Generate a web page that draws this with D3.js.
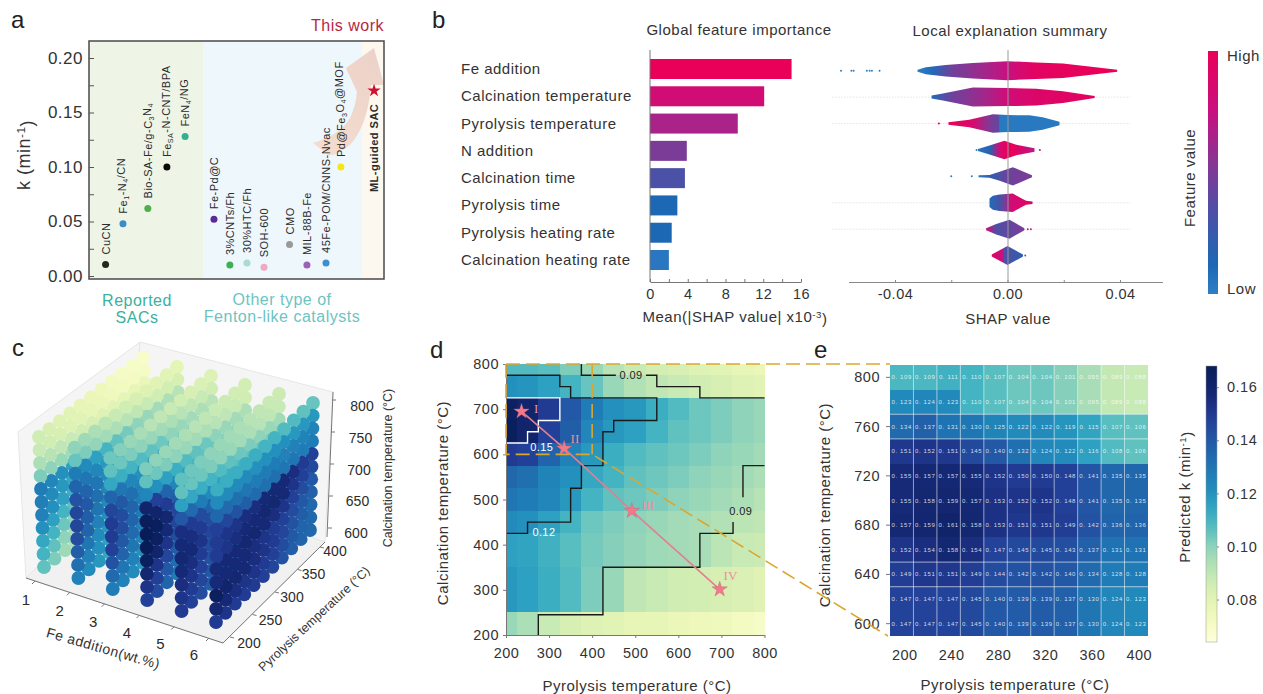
<!DOCTYPE html>
<html>
<head>
<meta charset="utf-8">
<script src="https://cdn.jsdelivr.net/npm/d3@7"></script>
<style>
  body { margin: 0; background: #fff; }
  svg { display: block; }
  text { font-family: "Liberation Sans", Arial, sans-serif; fill: #2b2b2b; }
  .tick text { font-size: 14.5px; letter-spacing: .5px; fill: #333; }
  .lab { font-size: 15px; letter-spacing: .5px; fill: #333; }
  .panel { font-size: 24px; fill: #222; }
</style>
</head>
<body>
<svg id="fig" width="1263" height="694"></svg>
<script>
// panel a
var catalysts = ["CuCN","Fe_{1}-N_{4}/CN","Bio-SA-Fe/g-C_{3}N_{4}","Fe_{SA}-N-CNT/BPA","FeN_{4}/NG","Fe-Pd@C","3%CNTs/Fh","30%HTC/Fh","SOH-600","CMO","MIL-88B-Fe","45Fe-POM/CNNS-Nvac","Pd@Fe_{3}O_{4}@MOF","ML-guided SAC"];
var catalystSlot = [1.0,2.05,3.55,4.7,5.8,7.54,8.5,9.53,10.56,12.1,13.15,14.3,15.2,17.2];
var catalystK = [0.0105,0.048,0.062,0.100,0.128,0.052,0.010,0.012,0.008,0.029,0.010,0.012,0.100,0.170];
var catalystColor = ["#1f2a1f","#3a8cc8","#4db04d","#0a0a0a","#35b08f","#5a2a9a","#3db054","#a8dcd0","#f0a8c4","#999999","#9a62b4","#3d8fd0","#f5e614","#d01030"];
var kTicks = [0,0.05,0.10,0.15,0.20];

// panel b
var shapFeatures = ["Fe addition","Calcination temperature","Pyrolysis temperature","N addition","Calcination time","Pyrolysis time","Pyrolysis heating rate","Calcination heating rate"];
var meanShap = [15.0,12.1,9.3,3.9,3.7,2.9,2.3,2.0];
var barShade = [1,0.82,0.65,0.5,0.33,0.12,0.12,0.04];
var violinShap = [
  [-0.032,-0.029,-0.022,-0.0123,0,0.0102,0.0197,0.029,0.039],
  [-0.027,-0.023,-0.0123,0,0.0102,0.0197,0.031],
  [-0.021,-0.0136,-0.0052,0,0.0078,0.0125,0.0185],
  [-0.0105,-0.0064,-0.0011,0.0031,0.0096],
  [-0.0103,-0.0064,-0.0028,0.0019,0.0087],
  [-0.0064,-0.0052,-0.0028,0.0019,0.0049,0.0066,0.0089],
  [-0.0076,-0.0040,0.0007,0.0060],
  [-0.0056,0,0.0055]
];
var violinDensity = [
  [0.1,0.35,0.58,0.78,0.95,0.82,0.72,0.42,0.1],
  [0.15,0.35,0.95,0.9,0.84,0.58,0.1],
  [0.12,0.38,0.92,0.85,0.82,0.62,0.17],
  [0.1,0.45,0.92,0.52,0.17],
  [0.1,0.14,0.45,0.92,0.1],
  [0.42,0.7,0.82,0.92,0.45,0.2,0.13],
  [0.1,0.52,0.95,0.1],
  [0.1,0.95,0.1]
];
var violinColorAt = [
  [-0.032,-0.027,-0.02,-0.01,0,0.01,0.039],
  [-0.027,-0.02,-0.01,0,0.01,0.031],
  [-0.021,-0.012,-0.007,-0.0031,-0.0028,0.0185],
  [-0.0105,-0.006,-0.003,0,0.003,0.0096],
  [-0.0103,-0.006,0,0.0087],
  [-0.0064,-0.003,-0.001,0.001,0.006,0.0089],
  [-0.0076,-0.004,0,0.006],
  [-0.0056,-0.002,-0.001,0.0055]
];
var violinColorValue = [
  [0,0.1,0.45,0.6,0.75,0.95,1],
  [0.1,0.45,0.6,0.8,0.9,0.95],
  [1,0.85,0.55,0.4,0.03,0.03],
  [0.05,0.2,0.8,1,0.95,0.7],
  [0.03,0.2,0.45,0.5],
  [0.1,0.3,0.45,0.8,0.9,0.9],
  [0.85,0.35,0.4,0.5],
  [0.9,0.8,0.35,0.2]
];
// outliers: row, shap, colour value
var outlierRow = [0,0,0,0,0,0,0,2,3,3,4,4,6,6,7];
var outlierShap = [-0.0592,-0.0555,-0.0547,-0.05,-0.049,-0.0482,-0.0455,-0.0244,-0.011,0.0115,-0.02,-0.0127,0.0072,0.0083,0.0063];
var outlierValue = [0,0,0,0,0,0,0,1,0,1,0.02,0.02,0.9,0.7,0.05];
var dottedRows = [1,2,5,6];

// panel c: one table per Fe addition, rows calcination 800 to 600, columns pyrolysis 200 to 400 (k x 1000)
var feLevels = [1,2,3,4,5,6];
var pyroC = d3.range(200,401,20);
var calcC = d3.range(800,599,-20);
var kByFe = [
 [[86,84,82,80,78,76,75,73,71,70,69],[88,86,84,82,80,78,76,74,73,72,71],[94,92,90,88,86,84,82,80,79,78,77],[102,100,98,96,94,92,90,88,86,85,84],[128,124,120,116,112,108,104,100,98,96,94],[127,122,118,114,110,106,102,100,98,96,94],[126,120,116,112,108,104,102,100,98,96,94],[120,116,110,106,102,100,98,96,94,92,90],[114,110,104,100,98,96,94,92,90,89,88],[110,106,100,96,94,92,90,88,87,86,85],[106,102,97,94,92,90,88,87,86,85,84]],
 [[100,97,94,91,88,86,84,82,81,80,79],[105,102,99,96,94,92,90,88,86,85,84],[128,122,116,110,106,103,100,98,96,94,92],[136,130,124,118,112,108,104,102,100,98,96],[142,136,130,122,116,112,108,104,102,100,98],[146,140,132,124,118,114,110,106,104,102,100],[146,138,130,122,118,114,110,106,104,102,100],[144,136,126,120,116,112,108,104,102,100,98],[138,130,122,118,114,110,106,102,100,98,96],[132,126,120,116,112,108,104,100,98,96,94],[126,122,118,114,110,106,102,98,96,94,92]],
 [[104,101,98,95,92,90,88,86,84,83,82],[106,104,102,100,98,96,94,92,90,88,86],[114,112,110,108,106,104,100,98,96,94,92],[136,130,124,120,116,112,108,104,102,100,98],[146,140,132,126,120,116,112,108,106,104,102],[150,144,136,128,122,118,114,110,108,106,104],[150,144,136,128,122,118,114,110,108,106,104],[148,140,134,126,120,116,112,108,106,104,102],[142,136,130,124,118,114,110,106,104,102,100],[134,130,126,120,116,112,108,104,102,100,98],[128,126,122,118,114,110,106,102,100,98,96]],
 [[102,100,98,96,94,92,90,88,87,86,85],[106,104,102,100,98,96,94,92,90,88,86],[124,120,116,112,108,106,104,100,98,96,94],[160,148,136,124,116,110,106,104,102,100,98],[167,160,150,138,128,118,112,108,106,104,102],[168,166,158,146,136,126,118,112,108,106,104],[168,164,156,146,136,128,120,114,110,108,106],[166,160,152,144,134,126,118,112,108,106,104],[158,152,146,138,130,124,116,110,106,104,102],[152,148,140,132,126,120,114,108,104,102,100],[148,144,136,128,122,118,112,106,102,100,98]],
 [[106,104,102,100,98,96,94,92,90,88,87],[106,105,104,102,100,98,96,94,92,90,88],[116,114,112,110,108,106,104,102,100,98,96],[140,134,128,122,116,112,108,106,104,102,100],[154,150,144,136,128,122,116,112,108,106,104],[156,154,150,144,136,128,122,116,112,108,106],[158,156,152,146,138,130,124,118,112,110,108],[156,154,150,144,138,130,124,118,114,110,108],[154,152,148,142,136,130,124,118,114,110,108],[152,150,146,140,134,128,122,116,112,108,106],[150,148,144,138,132,126,120,114,110,106,104]],
 [[112,112,112,112,112,110,110,108,108,106,105],[122,122,122,122,120,120,120,120,118,118,118],[135,134,132,130,128,128,128,126,126,125,125],[148,146,142,138,134,132,132,130,130,128,128],[150,152,152,154,154,156,156,156,154,150,148],[150,152,154,156,156,158,158,156,152,148,145],[155,156,156,158,158,156,154,152,148,144,140],[155,156,156,156,154,152,150,148,144,140,137],[165,160,158,156,154,152,150,146,142,138,135],[158,156,154,152,152,150,148,144,140,136,135],[150,152,150,150,150,148,146,142,138,136,135]]
];
var pyroTicksC = [200,250,300,350,400];
var calcTicksC = [600,650,700,750,800];

// panel d
var pyroD = d3.range(200,801,50);
var calcEdgesD = [800,775,725,675,625,575,525,475,425,350,250,200];
var heatD = [
 [108,108,107,102,98,92,88,85,84,82,80,78,76],
 [120,119,116,110,105,98,93,90,88,86,84,82,80],
 [164,160,150,140,128,120,118,112,108,104,102,100,98],
 [166,160,148,138,124,118,116,110,106,104,102,100,98],
 [150,148,136,126,118,112,108,106,104,102,100,98,96],
 [135,132,125,120,114,110,106,104,102,100,98,96,94],
 [130,128,124,118,110,106,104,102,100,98,96,94,92],
 [122,120,116,110,104,102,100,98,96,95,93,91,90],
 [116,115,111,107,103,101,99,97,96,95,91,88,87],
 [118,116,112,108,102,98,90,88,86,85,84,83,81],
 [98,94,88,84,82,80,78,78,76,75,74,72,70]
];
var contour012 = [[200,775],[325,775],[325,750],[350,750],[350,725],[550,725],[550,675],[450,675],[450,650],[425,650],[425,575],[375,575],[375,525],[350,525],[350,450],[250,450],[250,425],[200,425]];
var contour015 = [[200,725],[325,725],[325,675],[275,675],[275,650],[250,650],[250,625],[200,625]];
var contour009 = [
  [[375,800],[375,775],[455,775]],
  [[525,775],[550,775],[550,750],[650,750],[650,725],[800,725]],
  [[800,575],[750,575],[750,505]],
  [[727,450],[727,425],[650,425],[650,350],[425,350],[425,245],[275,245],[275,200]]
];
var contourLabels = ["0.09","0.15","0.12","0.09"];
var contourLabelPyro = [490,283,288,745];
var contourLabelCalc = [775,617,429,475];
var contourLabelColor = ["#222","#fff","#fff","#222"];
var pathNames = ["I","II","III","IV"];
var pathPyro = [236,335,492,696];
var pathCalc = [695,613,475,301];
var pathNamePyro = [270,360,530,721];
var pathNameCalc = [702,636,489,333];
var ticksD = [200,300,400,500,600,700,800];

// panel e
var pyroE = d3.range(200,401,20);
var calcE = d3.range(800,599,-20);
var heatE = [
 [.109,.109,.111,.110,.107,.104,.104,.101,.095,.089,.088],
 [.123,.124,.123,.110,.107,.104,.104,.101,.095,.089,.088],
 [.134,.137,.131,.130,.125,.122,.122,.119,.115,.107,.106],
 [.151,.152,.151,.145,.140,.132,.124,.122,.116,.108,.106],
 [.155,.157,.157,.155,.152,.150,.150,.148,.141,.135,.135],
 [.155,.158,.159,.157,.153,.152,.152,.148,.141,.135,.135],
 [.157,.159,.161,.158,.153,.151,.151,.149,.142,.136,.136],
 [.152,.154,.158,.154,.147,.145,.145,.143,.137,.131,.131],
 [.149,.151,.151,.149,.144,.142,.142,.140,.134,.128,.128],
 [.147,.147,.147,.145,.140,.139,.139,.137,.130,.124,.123],
 [.147,.147,.147,.145,.140,.139,.139,.137,.130,.124,.123]
];
var ticksEx = [200,240,280,320,360,400];
var ticksEy = [800,760,720,680,640,600];
var ruledRows = [2,3,8,9];
var colorbarTicks = [0.08,0.10,0.12,0.14,0.16];

var svg = d3.select("#fig");
var defs = svg.append("defs");

// text with _{sub} and ^{sup} parts
function rich(sel, str) {
  var back = 0;
  str.split(/([_^]\{[^}]*\})/).forEach(function(part) {
    if (!part) return;
    var m = part.match(/^([_^])\{(.*)\}$/);
    if (m) {
      var dy = m[1] == "_" ? 0.3 : -0.45;
      sel.append("tspan").attr("dy", (dy + back) + "em").style("font-size", "65%").text(m[2]);
      back = -dy;
    } else {
      sel.append("tspan").attr("dy", back + "em").text(part);
      back = 0;
    }
  });
  return sel;
}

function label(x, y, str, cls, rot) {
  var t = svg.append("text").attr("class", cls || "lab").attr("text-anchor", "middle")
    .attr("transform", "translate(" + x + "," + y + ")" + (rot ? " rotate(" + rot + ")" : ""));
  return rich(t, str);
}

[["a",11,28],["b",432,28],["c",12,356],["d",430,358],["e",814,358]].forEach(function(p) {
  svg.append("text").attr("class", "panel").attr("x", p[1]).attr("y", p[2]).text(p[0]);
});

function styleAxis(g, color) {
  g.selectAll("path,line").attr("stroke", color);
  g.selectAll("text").filter(function() { return !this.textContent; }).remove();
  return g;
}

// ---- a ----
var a = svg.append("g");
var xA = d3.scaleLinear().domain([0,17.8]).range([89,384]);
var yA = d3.scaleLinear().domain([0,0.20]).range([276,58]);
[[0,6.88,"#eef4e6"],[6.88,16.47,"#eef7fc"],[16.47,17.8,"#fdf8ef"]].forEach(function(r) {
  a.append("rect").attr("x", xA(r[0])).attr("y", 41).attr("width", xA(r[1]) - xA(r[0])).attr("height", 238).attr("fill", r[2]);
});
var arrowGrad = defs.append("linearGradient").attr("id", "arrowGrad")
  .attr("gradientUnits", "userSpaceOnUse").attr("x1", 313).attr("y1", 150).attr("x2", 375).attr("y2", 50);
arrowGrad.append("stop").attr("offset", 0).attr("stop-color", "#f4dccf");
arrowGrad.append("stop").attr("offset", 1).attr("stop-color", "#ecd2c8");
a.append("path").attr("fill", "url(#arrowGrad)")
  .attr("d", "M313,143 Q340,135 350,118 Q356,105 357,92 L346,68 L374,48 L384,85 L371,85 Q368,125 350,145 Q335,157 328,155 Z");
a.append("rect").attr("x", 89).attr("y", 41).attr("width", 295).attr("height", 238)
  .attr("fill", "none").attr("stroke", "#4a4a4a").attr("stroke-width", 1.5);
var axA = a.append("g").attr("transform", "translate(89,0)")
  .call(d3.axisLeft(yA).tickValues(d3.range(0,0.201,0.025)).tickSize(-5).tickFormat(function(d) {
    return kTicks.some(function(t) { return Math.abs(t - d) < 1e-6; }) ? d.toFixed(2) : "";
  }));
axA.select(".domain").remove();
styleAxis(axA, "#555");
axA.selectAll("text").attr("x", -6).style("font-size", "17px");
catalysts.forEach(function(c, i) {
  var x = xA(catalystSlot[i]), y = yA(catalystK[i]);
  var last = i == catalysts.length - 1;
  if (last) {
    a.append("path").attr("d", d3.symbol(d3.symbolStar, 55)()).attr("fill", catalystColor[i])
      .attr("transform", "translate(" + x + "," + y + ")");
  } else {
    a.append("circle").attr("cx", x).attr("cy", y).attr("r", 3.5).attr("fill", catalystColor[i]);
  }
  var t = a.append("text").attr("text-anchor", last ? "end" : "start").style("font-size", "11px")
    .style("letter-spacing", ".5px").style("font-weight", last ? "bold" : "normal")
    .attr("transform", "translate(" + (x + 4) + "," + (last ? y + 13 : y - 10) + ") rotate(-90)");
  rich(t, c);
});
label(30, 155, "k (min^{-1})", "lab", -90).style("font-size", "18px");
svg.append("text").attr("x", 384).attr("y", 31).attr("text-anchor", "end").style("font-size", "16px")
  .style("letter-spacing", ".5px").style("fill", "#b8283f").text("This work");
label(137, 306, "Reported").style("fill", "#3bb0a0").style("font-size", "16px");
label(137, 323, "SACs").style("fill", "#3bb0a0").style("font-size", "16px");
label(282, 305, "Other type of").style("fill", "#6cc4c4").style("font-size", "16px");
label(282, 322, "Fenton-like catalysts").style("fill", "#6cc4c4").style("font-size", "16px");

// ---- b ----
var shapColor = d3.scaleLinear().domain([0,0.12,0.35,0.55,0.75,1])
  .range(["#2d7fc5","#1d68b5","#4f4fa5","#8a3592","#c81080","#ea0058"]);
var xBar = d3.scaleLinear().domain([0,16]).range([650,801]);
var yBar = d3.scaleBand().domain(shapFeatures).range([59,270]).paddingInner(0.267);
shapFeatures.forEach(function(f, i) {
  svg.append("rect").attr("x", xBar(0)).attr("y", yBar(f)).attr("width", xBar(meanShap[i]) - xBar(0))
    .attr("height", yBar.bandwidth()).attr("fill", shapColor(barShade[i]));
  svg.append("text").attr("class", "lab").attr("x", 461).attr("y", yBar(f) + yBar.bandwidth() / 2 + 5).text(f);
});
svg.append("line").attr("x1", 650).attr("x2", 650).attr("y1", 50).attr("y2", 282).attr("stroke", "#777");
var axBar = svg.append("g").attr("transform", "translate(0,282)")
  .call(d3.axisBottom(xBar).tickValues(d3.range(0,17,2)).tickSize(-3).tickSizeOuter(0).tickFormat(function(d) { return d % 4 ? "" : d; }));
styleAxis(axBar, "#777").selectAll("text").attr("y", 7);
label(739, 35, "Global feature importance");
label(735, 322, "Mean(|SHAP value| x10^{-3})");

var xShap = d3.scaleLinear().domain([-0.04,0.04]).range([895,1120]);
var yShap = d3.scaleBand().domain(shapFeatures).range([64.1,262.2]).paddingInner(0.5);
var halfHeight = d3.scaleLinear().domain([0,1]).range([0,10]);
dottedRows.forEach(function(r) {
  var y = yShap(shapFeatures[r]) + yShap.bandwidth() / 2;
  svg.append("line").attr("x1", 832).attr("x2", 1130).attr("y1", y).attr("y2", y)
    .attr("stroke", "#e4e4ea").attr("stroke-width", 1).attr("stroke-dasharray", "1.5 1.5");
});
shapFeatures.forEach(function(f, i) {
  var cy = yShap(f) + yShap.bandwidth() / 2;
  var grad = defs.append("linearGradient").attr("id", "v" + i).attr("gradientUnits", "userSpaceOnUse")
    .attr("x1", xShap(violinShap[i][0])).attr("x2", xShap(violinShap[i][violinShap[i].length - 1]));
  var span = violinShap[i][violinShap[i].length - 1] - violinShap[i][0];
  violinColorAt[i].forEach(function(s, j) {
    grad.append("stop").attr("offset", (s - violinShap[i][0]) / span).attr("stop-color", shapColor(violinColorValue[i][j]));
  });
  var area = d3.area().x(function(d) { return xShap(d[0]); })
    .y0(function(d) { return cy - halfHeight(d[1]); })
    .y1(function(d) { return cy + halfHeight(d[1]); });
  svg.append("path").attr("d", area(d3.zip(violinShap[i], violinDensity[i]))).attr("fill", "url(#v" + i + ")");
});
outlierShap.forEach(function(s, i) {
  svg.append("circle").attr("cx", xShap(s)).attr("cy", yShap(shapFeatures[outlierRow[i]]) + yShap.bandwidth() / 2)
    .attr("r", 1).attr("fill", shapColor(outlierValue[i]));
});
svg.append("line").attr("x1", 1008).attr("x2", 1008).attr("y1", 50).attr("y2", 282).attr("stroke", "#999");
var axShap = svg.append("g").attr("transform", "translate(0,282)")
  .call(d3.axisBottom(xShap).tickValues([-0.04,-0.02,0,0.02,0.04]).tickSize(-2).tickSizeOuter(0).tickFormat(function(d) {
    return Math.abs(d) == 0.02 ? "" : d3.format(".2f")(d).replace("\u2212", "-");
  }));
axShap.select(".domain").attr("d", "M849,0.5H1163");
styleAxis(axShap, "#888").selectAll("text").attr("y", 7);
label(1010, 36, "Local explanation summary");
label(1008, 324, "SHAP value");

var bGrad = defs.append("linearGradient").attr("id", "shapBar").attr("x1", 0).attr("x2", 0).attr("y1", 1).attr("y2", 0);
shapColor.domain().forEach(function(v) { bGrad.append("stop").attr("offset", v).attr("stop-color", shapColor(v)); });
svg.append("rect").attr("x", 1208).attr("y", 51).attr("width", 10).attr("height", 243).attr("fill", "url(#shapBar)");
svg.append("text").attr("class", "lab").attr("x", 1227).attr("y", 61).text("High");
svg.append("text").attr("class", "lab").attr("x", 1227).attr("y", 294).text("Low");
label(1195, 178, "Feature value", "lab", -90);

// ---- shared k colours ----
// the reference's ramp runs faster through teal than plain YlGnBu
var kRamp = d3.scaleLinear().domain([0.064,0.10,0.11,0.12,0.13,0.14,0.15,0.155,0.168])
  .range([0,0.35,0.5,0.62,0.69,0.77,0.86,0.93,1]);
function kColor(v) { return d3.interpolateYlGnBu(kRamp(v)); }

// ---- c ----
var wall = "#f5f5f5", wallEdge = "#e6e6e6";
[[[18,432],[140,342],[128,477],[26,578]],
 [[140,342],[333,392],[325,542],[128,477]],
 [[26,578],[223,643],[325,542],[128,477]]].forEach(function(poly, i) {
  svg.append("polygon").attr("points", poly.join(" ")).attr("fill", i == 2 ? "#f1f1f1" : wall).attr("stroke", wallEdge);
});
var uFe = d3.scaleLinear().domain([1,6]).range([0,1]);
var uPy = d3.scaleLinear().domain([200,400]).range([0,1]);
var uCa = d3.scaleLinear().domain([600,800]).range([0,1]);
// screen position of the cube corners, index = fe, pyrolysis, calcination
var cube = {
  "000":[44,567], "100":[216,622], "110":[310,530], "010":[149,483],
  "001":[39,437], "101":[217,490], "111":[313,403], "011":[143,358]
};
function project(fe, py, ca) {
  var f = uFe(fe), p = uPy(py), c = uCa(ca), out = [0,0];
  [0,1].forEach(function(i) { [0,1].forEach(function(j) { [0,1].forEach(function(k) {
    var w = (i ? f : 1 - f) * (j ? p : 1 - p) * (k ? c : 1 - c), q = cube["" + i + j + k];
    out[0] += w * q[0]; out[1] += w * q[1];
  }); }); });
  return out;
}
// back to front: low Fe first, high pyrolysis first, high calcination first
feLevels.forEach(function(fe, fi) {
  d3.range(pyroC.length - 1, -1, -1).forEach(function(pi) {
    calcC.forEach(function(ca, ci) {
      var q = project(fe, pyroC[pi], ca);
      svg.append("circle").attr("cx", q[0]).attr("cy", q[1]).attr("r", 6.9)
        .attr("fill", kColor(kByFe[fi][ci][pi] / 1000));
    });
  });
});
svg.append("path").attr("d", "M26,578L223,643L325,542M327,537L333,392").attr("fill", "none").attr("stroke", "#777");
var feLabX = d3.scaleLinear().domain([1,6]).range([26,194]), feLabY = d3.scaleLinear().domain([1,6]).range([605,660]);
var feTickX = d3.scaleLinear().domain([1,6]).range([35,209]), feTickY = d3.scaleLinear().domain([1,6]).range([581,638]);
feLevels.forEach(function(v) {
  svg.append("text").attr("x", feLabX(v)).attr("y", feLabY(v)).attr("text-anchor", "middle").style("font-size", "15px").text(v);
  svg.append("line").attr("x1", feTickX(v)).attr("y1", feTickY(v)).attr("x2", feTickX(v) - 3).attr("y2", feTickY(v) + 3).attr("stroke", "#777");
});
var pyLabX = d3.scaleLinear().domain([200,400]).range([249,335]), pyLabY = d3.scaleLinear().domain([200,400]).range([648,556]);
var pyTickX = d3.scaleLinear().domain([200,400]).range([230,320]), pyTickY = d3.scaleLinear().domain([200,400]).range([637,547]);
pyroTicksC.forEach(function(v) {
  svg.append("text").attr("x", pyLabX(v)).attr("y", pyLabY(v)).attr("text-anchor", "middle").style("font-size", "14px").text(v);
  svg.append("line").attr("x1", pyTickX(v)).attr("y1", pyTickY(v)).attr("x2", pyTickX(v) + 4).attr("y2", pyTickY(v) + 1).attr("stroke", "#777");
});
var caLabX = d3.scaleLinear().domain([600,800]).range([356,362]), caLabY = d3.scaleLinear().domain([600,800]).range([538,411]);
var caTickY = d3.scaleLinear().domain([600,800]).range([528,400]), caTickX = d3.scaleLinear().domain([600,800]).range([328,332]);
calcTicksC.forEach(function(v) {
  svg.append("text").attr("x", caLabX(v)).attr("y", caLabY(v)).attr("text-anchor", "middle").style("font-size", "14px").text(v);
  svg.append("line").attr("x1", caTickX(v)).attr("y1", caTickY(v)).attr("x2", caTickX(v) + 4).attr("y2", caTickY(v)).attr("stroke", "#777");
});
label(102, 653, "Fe addition(wt.%)", "lab", 16).style("font-size", "14px");
label(317, 622, "Pyrolysis temperature (°C)", "lab", -43).style("font-size", "12.5px").style("letter-spacing", "0");
label(392, 468, "Calcination temperature (°C)", "lab", -90).style("font-size", "12.5px").style("letter-spacing", "0");

// ---- d ----
var xD = d3.scaleLinear().domain([200,800]).range([506,764.5]);
var yD = d3.scaleLinear().domain([200,800]).range([635,364]);
heatD.forEach(function(row, i) {
  pyroD.forEach(function(p, j) {
    var x0 = xD(Math.max(200, p - 25)), x1 = xD(Math.min(800, p + 25));
    var y0 = yD(calcEdgesD[i]), y1 = yD(calcEdgesD[i + 1]);
    svg.append("rect").attr("x", x0).attr("y", y0).attr("width", x1 - x0).attr("height", y1 - y0)
      .attr("fill", kColor(row[j] / 1000)).attr("shape-rendering", "crispEdges");
  });
});
var lineD = d3.line().x(function(d) { return xD(d[0]); }).y(function(d) { return yD(d[1]); });
contour009.concat([contour012]).forEach(function(c) {
  svg.append("path").attr("d", lineD(c)).attr("fill", "none").attr("stroke", "#1a1a1a").attr("stroke-width", 1.4);
});
svg.append("path").attr("d", lineD(contour015)).attr("fill", "none").attr("stroke", "#fff").attr("stroke-width", 1.4);
contourLabels.forEach(function(t, i) {
  svg.append("text").attr("x", xD(contourLabelPyro[i])).attr("y", yD(contourLabelCalc[i]) + 4).attr("text-anchor", "middle")
    .style("font-size", "11px").style("letter-spacing", ".4px").style("fill", contourLabelColor[i]).text(t);
});
var pathXY = d3.zip(pathPyro, pathCalc);
svg.append("path").attr("d", lineD(pathXY)).attr("fill", "none").attr("stroke", "#e2808e").attr("stroke-width", 1.6);
pathXY.forEach(function(p, i) {
  svg.append("path").attr("d", d3.symbol(d3.symbolStar, 75)()).attr("fill", "#f2788a").attr("stroke", "#a8606a").attr("stroke-width", .3)
    .attr("transform", "translate(" + xD(p[0]) + "," + yD(p[1]) + ")");
  svg.append("text").attr("x", xD(pathNamePyro[i])).attr("y", yD(pathNameCalc[i]) + 5).attr("text-anchor", "middle")
    .style("font-family", "'Liberation Serif', serif").style("font-size", "13px").style("fill", "#e8909c").text(pathNames[i]);
});
var xDaxis = svg.append("g").attr("transform", "translate(0,635)")
  .call(d3.axisBottom(xD).tickValues(ticksD).tickSize(3).tickSizeOuter(0));
styleAxis(xDaxis, "#777").selectAll("text").attr("y", 13);
var yDaxis = svg.append("g").attr("transform", "translate(506,0)")
  .call(d3.axisLeft(yD).tickValues(ticksD).tickSize(3).tickSizeOuter(0));
styleAxis(yDaxis, "#777").selectAll("text").attr("x", -7);
label(637, 691, "Pyrolysis temperature (°C)");
label(448, 503, "Calcination temperature (°C)", "lab", -90);

// ---- e ----
var xE = d3.scaleBand().domain(pyroE).range([890,1148]);
var yE = d3.scaleBand().domain(calcE).range([365,636]);
calcE.forEach(function(c, i) {
  pyroE.forEach(function(p, j) {
    svg.append("rect").attr("x", xE(p)).attr("y", yE(c)).attr("width", xE.bandwidth()).attr("height", yE.bandwidth())
      .attr("fill", kColor(heatE[i][j])).attr("shape-rendering", "crispEdges");
    svg.append("text").attr("x", xE(p) + xE.bandwidth() / 2).attr("y", yE(c) + yE.bandwidth() / 2 + 2).attr("text-anchor", "middle")
      .style("font-size", "6px").style("letter-spacing", ".6px").style("fill", "rgba(255,255,255,.8)")
      .text(heatE[i][j].toFixed(3).replace(".", ". "));
  });
});
pyroE.slice(1).forEach(function(p) {
  svg.append("line").attr("x1", xE(p)).attr("x2", xE(p)).attr("y1", 365).attr("y2", 636).attr("stroke", "#fff").attr("stroke-opacity", .55);
});
ruledRows.forEach(function(r) {
  var y = 365 + r * yE.step();
  svg.append("line").attr("x1", 890).attr("x2", 1148).attr("y1", y).attr("y2", y).attr("stroke", "#fff").attr("stroke-opacity", .6);
});
ticksEx.forEach(function(v) {
  svg.append("text").attr("x", xE(v) + xE.bandwidth() / 2 + 3).attr("y", 660).attr("text-anchor", "middle")
    .style("font-size", "14.5px").style("letter-spacing", ".5px").style("fill", "#333").text(v);
});
ticksEy.forEach(function(v) {
  var y = yE(v) + yE.bandwidth() / 2;
  svg.append("text").attr("x", 880).attr("y", y + 5).attr("text-anchor", "end")
    .style("font-size", "14.5px").style("letter-spacing", ".5px").style("fill", "#333").text(v);
  svg.append("line").attr("x1", 886).attr("x2", 890).attr("y1", y).attr("y2", y).attr("stroke", "#777");
});
label(1015, 690, "Pyrolysis temperature (°C)");
label(830, 505, "Calcination temperature (°C)", "lab", -90);

// dashed zoom guide from d to e
var guide = "M" + xD(200) + "," + yD(800) + "H890" +
  "M" + xD(400) + "," + yD(800) + "V" + yD(600) +
  "M" + xD(200) + "," + yD(800) + "V" + yD(600) + "H" + xD(400) +
  "L888,636";
svg.append("path").attr("d", guide).attr("fill", "none").attr("stroke", "#dca62e").attr("stroke-width", 1.6).attr("stroke-dasharray", "14 6");

// colour bar
var cbY = d3.scaleLinear().domain([0.064,0.168]).range([642,366]);
var cbGrad = defs.append("linearGradient").attr("id", "kBar").attr("x1", 0).attr("x2", 0).attr("y1", 1).attr("y2", 0);
d3.range(0,1.01,0.05).forEach(function(t) {
  cbGrad.append("stop").attr("offset", t).attr("stop-color", kColor(0.064 + t * 0.104));
});
svg.append("rect").attr("x", 1206).attr("y", 366).attr("width", 11).attr("height", 276).attr("fill", "url(#kBar)").attr("stroke", "#999").attr("stroke-width", .5);
var cbAxis = svg.append("g").attr("transform", "translate(1217,0)")
  .call(d3.axisRight(cbY).tickValues(colorbarTicks).tickSize(2).tickSizeOuter(0).tickFormat(d3.format(".2f")));
cbAxis.select(".domain").remove();
styleAxis(cbAxis, "#888").selectAll("text").attr("x", 10);
label(1190, 497, "Predicted k (min^{-1})", "lab", -90);
</script>
</body>
</html>
